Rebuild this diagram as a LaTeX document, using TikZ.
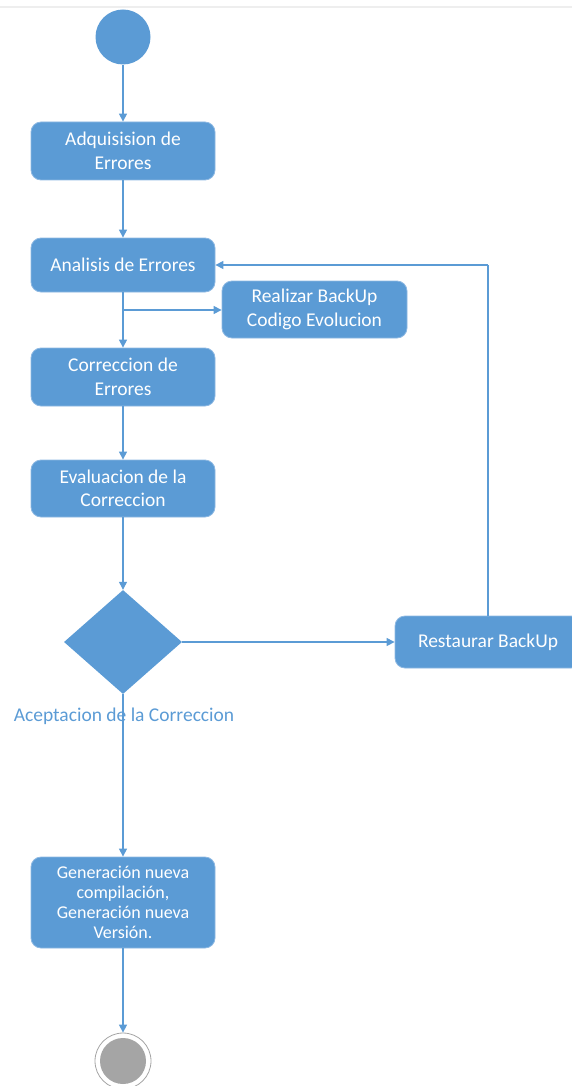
\documentclass[tikz,border=0pt]{standalone}
\usepackage{fontspec}
\setmainfont{Carlito}
\usetikzlibrary{arrows.meta,shapes.geometric}
\definecolor{actblue}{HTML}{5B9BD5}
\definecolor{actedge}{HTML}{8DB8E2}
\definecolor{endgrey}{HTML}{A5A5A5}
\definecolor{rulegrey}{HTML}{EEEEEE}
\tikzset{
  activity/.style={draw=actedge, line width=0.8pt, fill=actblue, rounded corners=10pt,
    text=white, align=center, inner sep=2pt, font=\fontsize{19.5}{23.5}\selectfont},
  flow/.style={draw=actblue, line width=1.2pt, -{Triangle[length=8pt,width=8pt]}},
  plainflow/.style={draw=actblue, line width=1.2pt},
}
\begin{document}
\begin{tikzpicture}[x=1pt,y=1pt]
  \useasboundingbox (0,0) rectangle (572,-1086);
  \clip (0,0) rectangle (572,-1086);
  % thin rule along the top edge
  \draw[rulegrey, line width=1.2pt] (0,-7) -- (572,-7);

  % start state
  \node[circle, fill=actblue, minimum size=55pt, inner sep=0pt] (start) at (123,-37) {};

  % activities
  \node[activity, minimum width=184pt, minimum height=58pt] (adq) at (123,-151) {Adquisision de\\Errores};
  \node[activity, minimum width=184pt, minimum height=54pt] (ana) at (123,-265) {Analisis de Errores};
  \node[activity, minimum width=185pt, minimum height=57pt] (bak) at (314.5,-309.5) {Realizar BackUp\\Codigo Evolucion};
  \node[activity, minimum width=184pt, minimum height=58pt] (cor) at (123,-377) {Correccion de\\Errores};
  \node[activity, minimum width=184pt, minimum height=57pt] (eva) at (123,-488.5) {Evaluacion de la\\Correccion};
  \node[diamond, fill=actblue, minimum width=118pt, minimum height=104pt, inner sep=0pt] (dec) at (123,-642) {};
  \node[text=actblue, font=\fontsize{19.5}{22}\selectfont] (declbl) at (124,-716) {Aceptacion de la Correccion};
  \node[activity, minimum width=186pt, minimum height=52pt] (res) at (488,-642) {Restaurar BackUp};
  \node[activity, minimum width=184pt, minimum height=91pt, font=\fontsize{18}{20}\selectfont] (gen) at (123,-902.5)
    {Generación nueva\\compilación,\\Generación nueva\\Versión.};

  % final state
  \node[circle, draw=endgrey, line width=0.8pt, fill=white, minimum size=56pt, inner sep=0pt] (stop) at (123,-1061) {};
  \node[circle, fill=endgrey, minimum size=46pt, inner sep=0pt] (stopin) at (stop) {};

  % control flow
  \draw[flow] (start) -- (adq);
  \draw[flow] (adq) -- (ana);
  \draw[flow] (ana) -- (cor);
  \coordinate (fork) at (123,-310);
  \draw[flow] (fork) -- (bak.west |- fork);
  \draw[flow] (cor) -- (eva);
  \draw[flow] (eva) -- (dec.north);
  \draw[flow] (dec.east) -- (res.west);
  \coordinate (ret) at (488,-265);
  \draw[plainflow] (res.north) -- (ret);
  \draw[flow] (ret) -- (ana.east);
  \draw[flow] (dec.south) -- (gen.north);
  \draw[flow] (gen.south) -- (stop.north);
\end{tikzpicture}
\end{document}
